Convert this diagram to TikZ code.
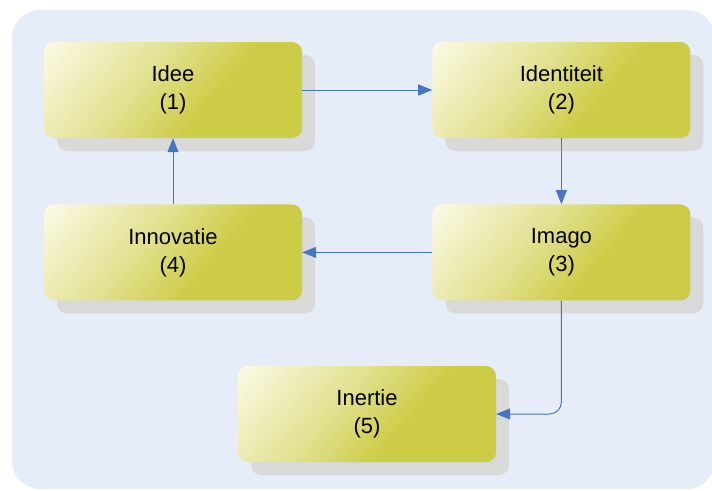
\documentclass[tikz,border=0pt]{standalone}
\usepackage{fontspec}
\setmainfont{Liberation Sans}
\usetikzlibrary{positioning,shadows,arrows.meta}

\definecolor{bgblue}{HTML}{E6EDF8}
\definecolor{shadowgray}{HTML}{D9D9D9}
\definecolor{flowblue}{HTML}{4675C6}
\definecolor{boxlight}{HTML}{FBFAE6}
\definecolor{boxmid}{HTML}{E2E190}
\definecolor{boxdark}{HTML}{CDCC46}

\pgfdeclarehorizontalshading{stageshade}{100bp}{color(0bp)=(boxlight); color(15bp)=(boxlight); color(42bp)=(boxmid); color(60bp)=(boxdark); color(100bp)=(boxdark)}

\tikzset{
  stage/.style={rectangle, rounded corners=10pt, minimum width=258pt, minimum height=96pt,
    inner sep=0pt, align=center, font=\fontsize{22}{28}\selectfont,
    shade, shading=stageshade, shading angle=-40,
    drop shadow={shadow xshift=13pt, shadow yshift=-13pt, fill=shadowgray, opacity=1}},
  flow/.style={draw=flowblue, line width=1pt, -{Triangle[length=14pt,width=11pt]}}
}

\begin{document}
\begin{tikzpicture}[x=1pt, y=-1pt]
  \clip (0,0) rectangle (712,490);
  \fill[white] (0,0) rectangle (712,490);
  \fill[bgblue, rounded corners=28pt] (12,10) rectangle (715,489);

  % Nodes
  \node[stage] (idee) at (173,90) {Idee\\(1)};
  \node[stage, right=130pt of idee] (identiteit) {Identiteit\\(2)};
  \node[stage, below=66pt of idee] (innovatie) {Innovatie\\(4)};
  \node[stage, below=66pt of identiteit] (imago) {Imago\\(3)};
  \node[stage] (inertie) at (367,414) {Inertie\\(5)};

  % Arrows
  \draw[flow] (idee) -- (identiteit);
  \draw[flow] (identiteit) -- (imago);
  \draw[flow] (imago) -- (innovatie);
  \draw[flow] (innovatie) -- (idee);
  \draw[flow, rounded corners=12pt] (imago.south) |- (inertie.east);
\end{tikzpicture}
\end{document}
